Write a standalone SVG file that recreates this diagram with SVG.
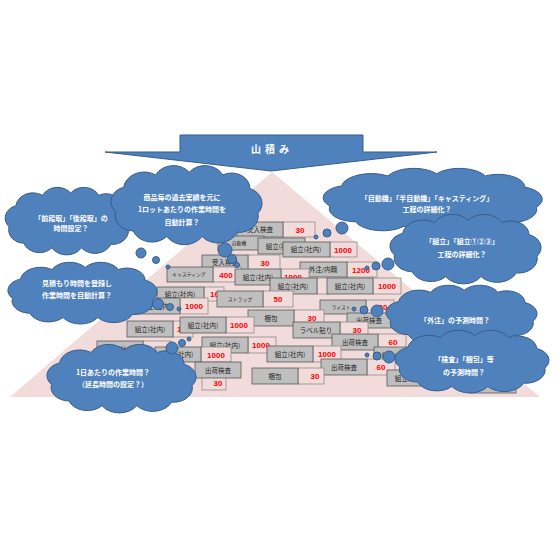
<svg xmlns="http://www.w3.org/2000/svg" xmlns:xlink="http://www.w3.org/1999/xlink" width="560" height="560" viewBox="0 0 560 560">
<style>
.g{fill:#bfbfbf;stroke:#595959;stroke-width:0.8}
.p{fill:#f2dcdb;stroke:#8c8c8c;stroke-width:0.8}
.lb{font-family:"Noto Sans CJK JP","Noto Sans",sans-serif;font-size:6.5px;fill:#262626;text-anchor:middle}
.sm{font-size:4.8px}
.nm{font-family:"Liberation Sans",Arial,sans-serif;font-weight:bold;font-size:8px;fill:#ff0000;text-anchor:middle}
.ct{font-family:"Noto Sans CJK JP","Noto Sans",sans-serif;font-weight:bold;font-size:7px;fill:#ffffff;text-anchor:middle}
.bl{fill:#4f81bd;stroke:#385d8a;stroke-width:1}
.cp{fill:#4f81bd;stroke:#385d8a;stroke-width:1;vector-effect:non-scaling-stroke}
</style>
<defs>
<symbol id="cloud" viewBox="0 0 200 120" preserveAspectRatio="none">
<path class="cp" d="M12,70 A22,22 0 0 1 22,34 A26,26 0 0 1 62,16 A25,25 0 0 1 104,12 A25,25 0 0 1 146,16 A23,23 0 0 1 180,36 A23,23 0 0 1 190,72 A24,24 0 0 1 164,100 A26,26 0 0 1 120,106 A26,26 0 0 1 76,106 A25,25 0 0 1 34,98 A23,23 0 0 1 12,70 Z"/>
</symbol>
<clipPath id="clipC"><rect x="258" y="238" width="25" height="16"/></clipPath>
<clipPath id="clipQ"><rect x="173" y="321" width="7" height="16"/></clipPath>
<clipPath id="clipK"><rect x="204" y="287" width="13" height="14"/></clipPath>
<clipPath id="clipH"><rect x="281" y="269" width="28" height="9"/></clipPath>
</defs>
<rect width="560" height="560" fill="#ffffff"/>
<g id="pyramid"><polygon points="272,172 10,397 540,397" fill="#f2dcdb"/></g>
<g id="banner">
<polygon class="bl" points="180,135 363,135 363,152 437,152 271,171 105,152 180,152"/>
<text x="272" y="153" style="font-family:'Noto Sans CJK JP',sans-serif;font-weight:bold;font-size:10px;fill:#fff;text-anchor:middle;letter-spacing:4px">山積み</text>
</g>
<g id="blocks">
<g id="bA"><rect class="p" x="283" y="222" width="32" height="15"/><rect class="g" x="237" y="222" width="46" height="15"/><text class="lb" x="260" y="232">受入検査</text><text class="nm" x="300" y="232.5">30</text></g>
<g id="bB"><rect class="g" x="218" y="236" width="46" height="14"/><text class="lb sm" x="239" y="245">自動機</text></g>
<g id="bC"><rect class="g" x="258" y="238" width="47" height="16"/><text class="lb" x="281" y="248.5" clip-path="url(#clipC)">組立(社内)</text></g>
<g id="bD"><rect class="p" x="330" y="242" width="27" height="15"/><rect class="g" x="283" y="242" width="47" height="15"/><text class="lb" x="306" y="252">組立(社内)</text><text class="nm" x="343" y="252.5">1000</text></g>
<g id="bE"><rect class="p" x="248" y="255" width="32" height="15"/><rect class="g" x="202" y="255" width="46" height="15"/><text class="lb" x="225" y="265">受入検査</text><text class="nm" x="265" y="265.5">30</text></g>
<g id="bF"><rect class="p" x="347" y="262" width="30" height="15"/><rect class="g" x="300" y="262" width="47" height="15"/><text class="lb" x="323" y="272">外注/内職</text><text class="nm" x="361" y="272.5">1200</text></g>
<g id="bG"><rect class="p" x="213" y="267" width="28" height="15"/><rect class="g" x="167" y="267" width="46" height="15"/><text class="lb sm" x="189" y="276">キャスティング</text><text class="nm" x="226" y="277.5">400</text></g>
<g id="bH"><rect class="p" x="281" y="269" width="28" height="16"/><rect class="g" x="235" y="269" width="46" height="16"/><text class="lb" x="258" y="279.5">組立(社内)</text><text class="nm" x="293" y="280" clip-path="url(#clipH)">1000</text></g>
<g id="bI"><rect class="p" x="317" y="278" width="12" height="16"/><rect class="g" x="270" y="278" width="47" height="16"/><text class="lb" x="293" y="288.5">組立(社内)</text></g>
<g id="bJ"><rect class="p" x="373" y="278" width="28" height="16"/><rect class="g" x="327" y="278" width="46" height="16"/><text class="lb" x="350" y="288.5">組立(社内)</text><text class="nm" x="387" y="289">1000</text></g>
<g id="bK"><rect class="p" x="204" y="287" width="20" height="14"/><rect class="g" x="157" y="287" width="47" height="14"/><text class="lb" x="180" y="296.5">組立(社内)</text><text class="nm" x="219" y="297" clip-path="url(#clipK)">1000</text></g>
<g id="bL"><rect class="p" x="263" y="291" width="30" height="16"/><rect class="g" x="217" y="291" width="46" height="16"/><text class="lb sm" x="240" y="300.5">ストラップ</text><text class="nm" x="278" y="302">50</text></g>
<g id="bM"><rect class="p" x="180" y="298" width="28" height="16"/><rect class="g" x="133" y="298" width="47" height="16"/><text class="lb" x="156" y="308.5">組立(社内)</text><text class="nm" x="194" y="309">1000</text></g>
<g id="bN"><rect class="p" x="366" y="300" width="28" height="14"/><rect class="g" x="320" y="300" width="46" height="14"/><text class="lb sm" x="341" y="309">ライスト</text><text class="nm" x="383" y="310">30</text></g>
<g id="bO"><rect class="p" x="294" y="310" width="30" height="16"/><rect class="g" x="248" y="310" width="46" height="16"/><text class="lb" x="271" y="320.5">梱包</text><text class="nm" x="312" y="321">30</text></g>
<g id="bP"><rect class="p" x="391" y="313" width="28" height="15"/><rect class="g" x="347" y="313" width="44" height="15"/><text class="lb" x="369" y="323">出荷検査</text></g>
<g id="bQ"><rect class="p" x="173" y="321" width="20" height="16"/><rect class="g" x="127" y="321" width="46" height="16"/><text class="lb" x="150" y="331.5">組立(社内)</text><text class="nm" x="186" y="332" clip-path="url(#clipQ)">1000</text></g>
<g id="bR"><rect class="p" x="226" y="317" width="28" height="16"/><rect class="g" x="180" y="317" width="46" height="16"/><text class="lb" x="203" y="327.5">組立(社内)</text><text class="nm" x="239" y="328">1000</text></g>
<g id="bS"><rect class="p" x="340" y="322" width="28" height="16"/><rect class="g" x="293" y="322" width="47" height="16"/><text class="lb" x="316" y="332.5">ラベル貼り</text><text class="nm" x="357" y="333">30</text></g>
<g id="bT"><rect class="p" x="378" y="334" width="28" height="16"/><rect class="g" x="332" y="334" width="46" height="16"/><text class="lb" x="355" y="344.5">出荷検査</text><text class="nm" x="393" y="345">60</text></g>
<g id="bU"><rect class="p" x="248" y="337" width="28" height="16"/><rect class="g" x="202" y="337" width="46" height="16"/><text class="lb" x="225" y="347.5">組立(社内)</text><text class="nm" x="261" y="348">1000</text></g>
<g id="bV"><rect class="p" x="143" y="341" width="28" height="16"/><rect class="g" x="97" y="341" width="46" height="16"/><text class="lb" x="120" y="351.5">組立(社内)</text></g>
<g id="bW"><rect class="p" x="201" y="347" width="30" height="15"/><rect class="g" x="155" y="347" width="46" height="15"/><text class="lb" x="178" y="357">組立(社内)</text><text class="nm" x="216" y="357.5">1000</text></g>
<g id="bX"><rect class="p" x="313" y="346" width="28" height="16"/><rect class="g" x="267" y="346" width="46" height="16"/><text class="lb" x="290" y="356.5">組立(社内)</text><text class="nm" x="327" y="357">1000</text></g>
<g id="bY"><rect class="p" x="420" y="347" width="28" height="16"/><rect class="g" x="374" y="347" width="46" height="16"/><text class="lb" x="397" y="357.5">組立(社内)</text></g>
<g id="bZ"><rect class="p" x="202" y="377" width="24" height="13"/><rect class="g" x="195" y="362" width="46" height="16"/><text class="lb" x="218" y="372.5">出荷検査</text><text class="nm" x="218" y="386">30</text></g>
<g id="bAA"><rect class="p" x="367" y="359" width="28" height="16"/><rect class="g" x="321" y="359" width="46" height="16"/><text class="lb" x="344" y="369.5">出荷検査</text><text class="nm" x="381" y="370">60</text></g>
<g id="bAB"><rect class="p" x="298" y="368" width="26" height="16"/><rect class="g" x="252" y="368" width="46" height="16"/><text class="lb" x="275" y="378.5">梱包</text><text class="nm" x="315" y="379">30</text></g>
<g id="bAC"><rect class="g" x="387" y="370" width="46" height="16"/><text class="lb" x="410" y="380.5">組立(社内)</text></g>
<g id="bAD"><rect class="g" x="470" y="377" width="46" height="16"/></g>
</g>
<g id="cloud1">
<use xlink:href="#cloud" x="1" y="186" width="134" height="70"/>
<text class="ct" x="71" y="220.5">「前段取」「後段取」の</text>
<text class="ct" x="71" y="231">時間設定？</text>
<circle class="bl" cx="141" cy="253" r="5"/><circle class="bl" cx="156" cy="260" r="3.5"/><circle class="bl" cx="168" cy="267" r="2"/>
</g>
<g id="cloud2">
<use xlink:href="#cloud" x="106" y="164" width="160" height="82"/>
<text class="ct" x="182" y="199.5">商品毎の過去実績を元に</text>
<text class="ct" x="182" y="211.5">1ロットあたりの作業時間を</text>
<text class="ct" x="182" y="224.5">自動計算？</text>
<circle class="bl" cx="225" cy="250" r="7"/><circle class="bl" cx="232" cy="259" r="4.5"/><circle class="bl" cx="237" cy="265" r="2.5"/>
</g>
<g id="cloud3">
<use xlink:href="#cloud" x="3" y="261" width="158" height="64"/>
<text class="ct" x="77" y="285.5">見積もり時間を登録し</text>
<text class="ct" x="77" y="297.5">作業時間を自動計算？</text>
<circle class="bl" cx="158" cy="304" r="5.5"/><circle class="bl" cx="170" cy="307" r="3.5"/><circle class="bl" cx="179" cy="309" r="2"/>
</g>
<g id="cloud4">
<use xlink:href="#cloud" x="42" y="343" width="158" height="71"/>
<text class="ct" x="113" y="374.5">1日あたりの作業時間？</text>
<text class="ct" x="113" y="386.5">（延長時間の設定？）</text>
<circle class="bl" cx="172" cy="348" r="6"/><circle class="bl" cx="182" cy="343" r="3.5"/><circle class="bl" cx="189" cy="339" r="2"/>
</g>
<g id="cloud5">
<use xlink:href="#cloud" x="316" y="167" width="232" height="67"/>
<text class="ct" x="427" y="200.5">「自動機」「半自動機」「キャスティング」</text>
<text class="ct" x="427" y="212">工程の詳細化？</text>
<circle class="bl" cx="342" cy="228" r="6"/><circle class="bl" cx="327" cy="233" r="4"/><circle class="bl" cx="316" cy="237" r="2"/>
</g>
<g id="cloud6">
<use xlink:href="#cloud" x="385" y="213" width="160" height="72"/>
<text class="ct" x="462" y="243.5">「組立」「組立①②③」</text>
<text class="ct" x="462" y="256.5">工程の詳細化？</text>
<circle class="bl" cx="388" cy="264" r="6"/><circle class="bl" cx="376" cy="266" r="4"/><circle class="bl" cx="367" cy="268" r="2"/>
</g>
<g id="cloud7">
<use xlink:href="#cloud" x="381" y="284" width="160" height="62"/>
<text class="ct" x="455" y="322.5">「外注」の予測時間？</text>
<circle class="bl" cx="377" cy="311" r="6"/><circle class="bl" cx="364" cy="310" r="4"/><circle class="bl" cx="354" cy="309" r="2"/>
</g>
<g id="cloud8">
<use xlink:href="#cloud" x="390" y="329" width="163" height="65"/>
<text class="ct" x="464" y="361.5">「検査」「梱包」等</text>
<text class="ct" x="464" y="375">の予測時間？</text>
<circle class="bl" cx="389" cy="357" r="6"/><circle class="bl" cx="377" cy="356" r="4"/><circle class="bl" cx="367" cy="355" r="2"/>
</g>
</svg>
